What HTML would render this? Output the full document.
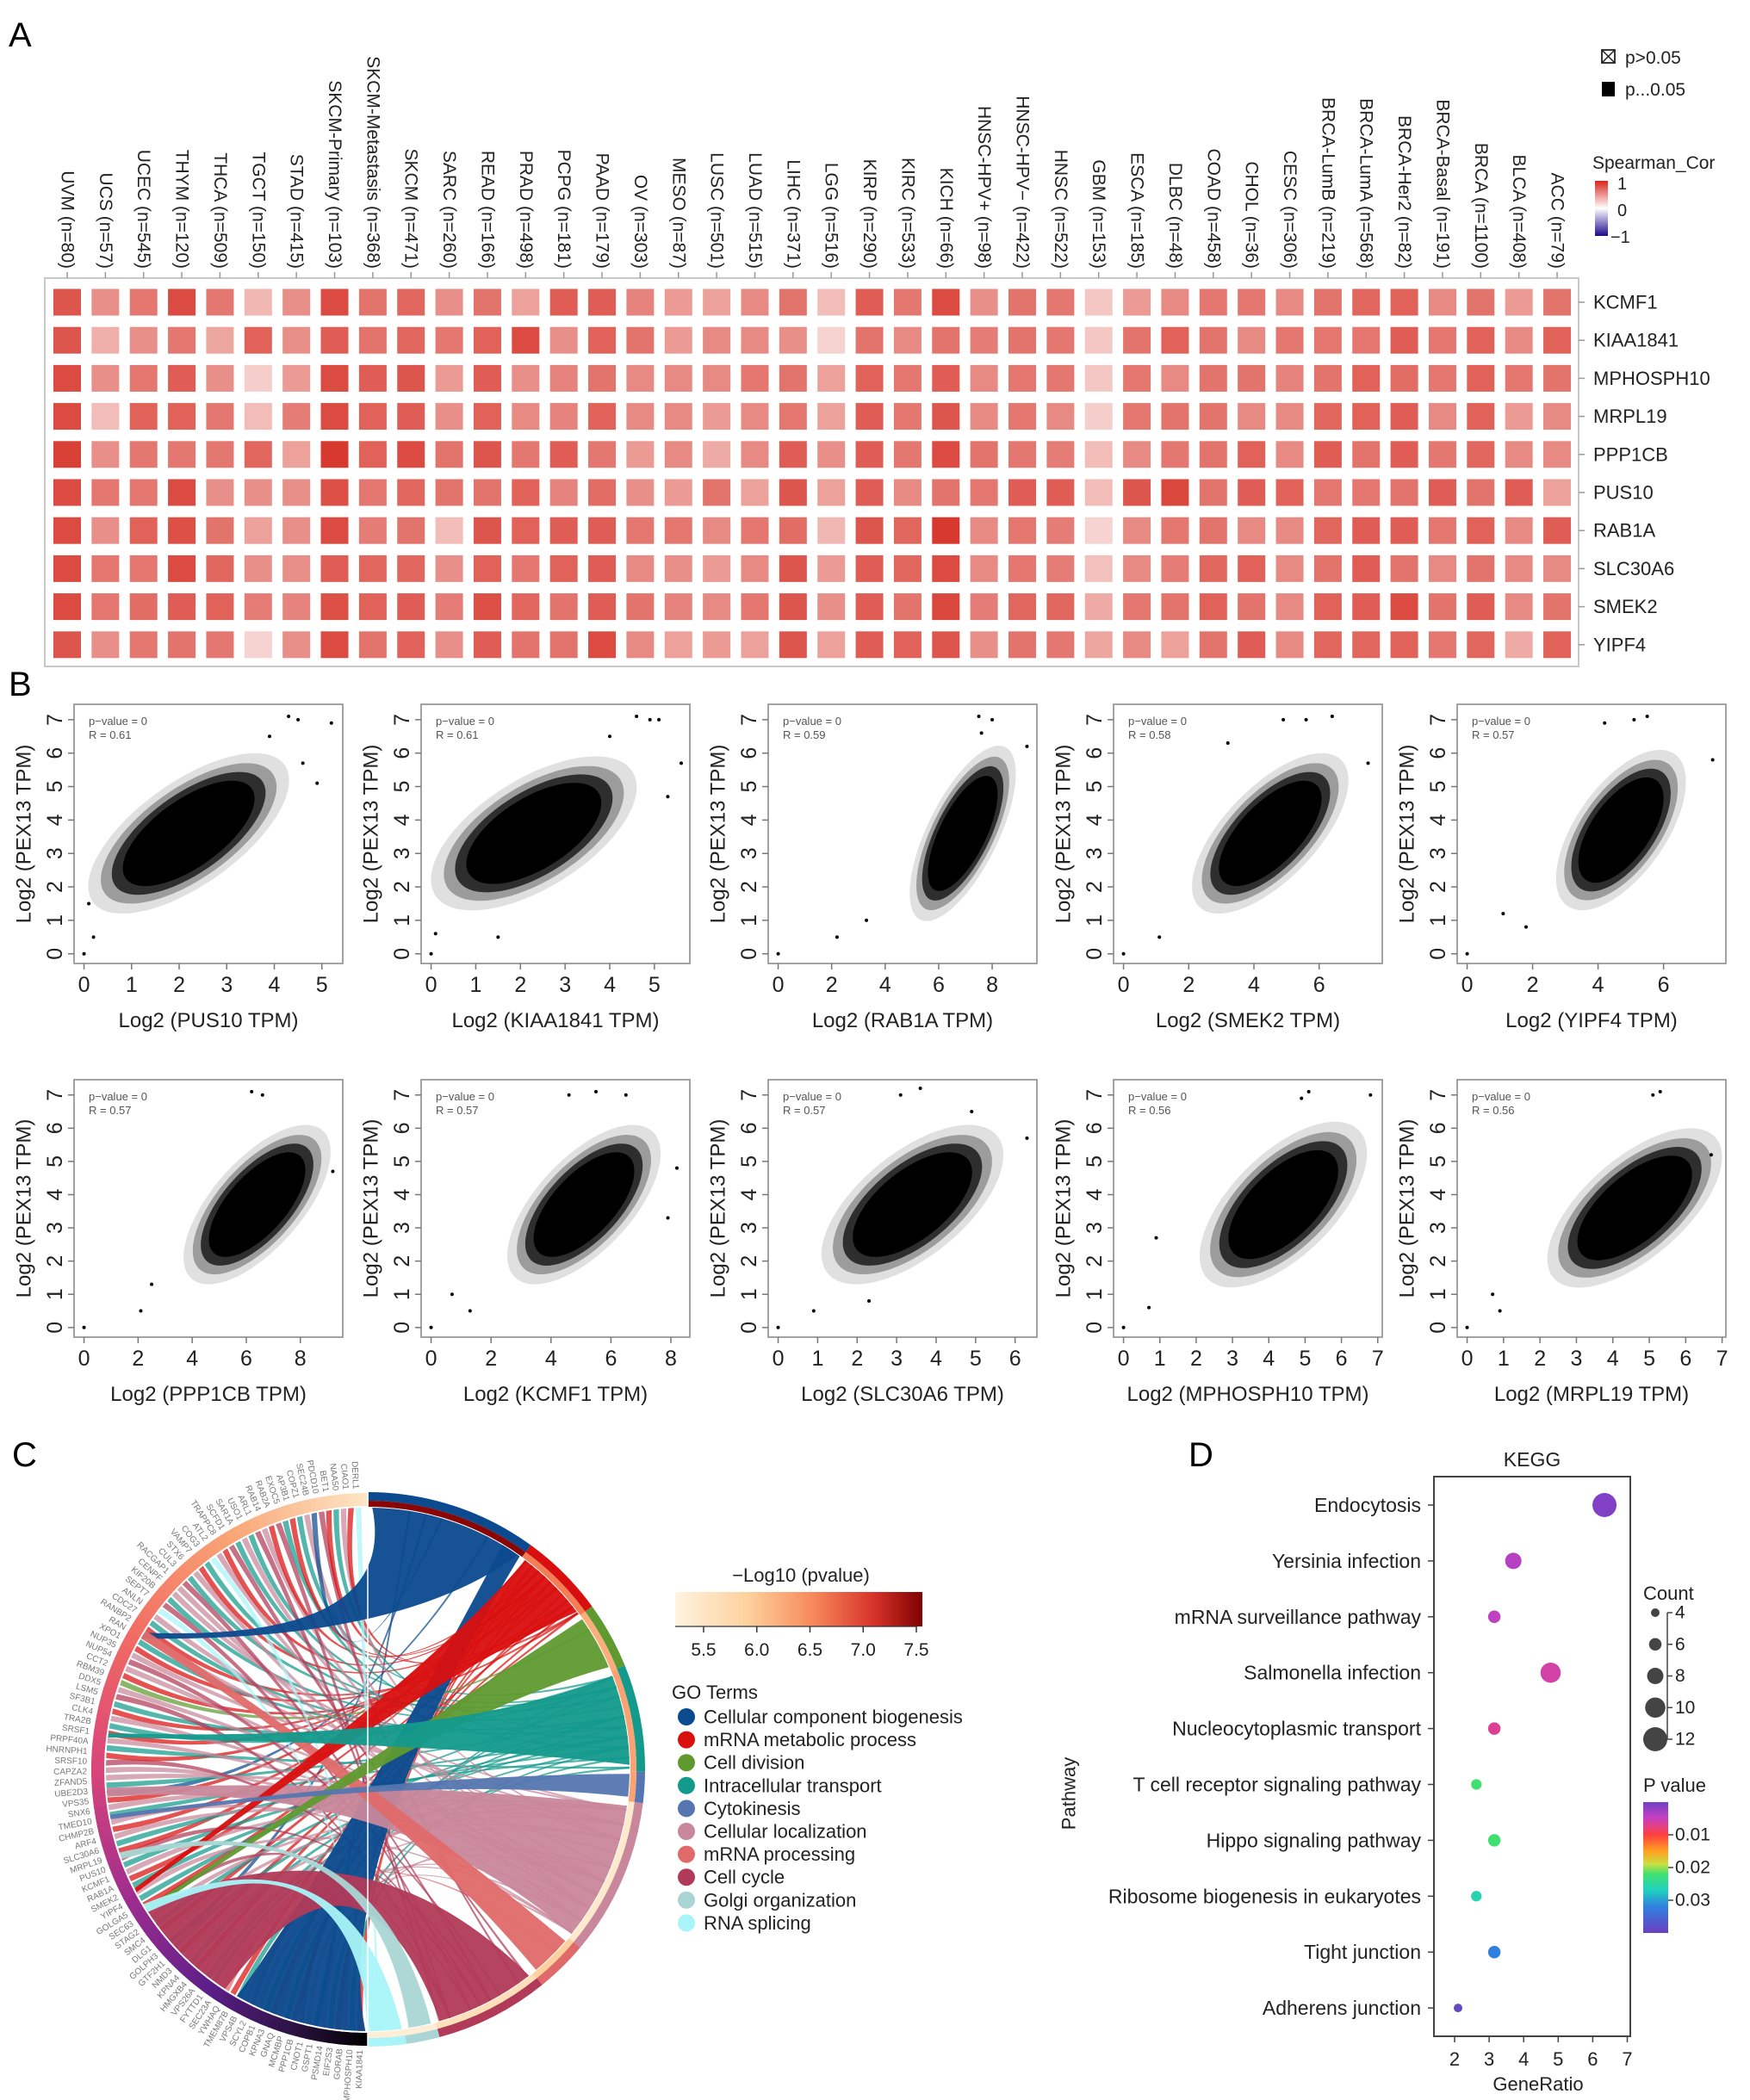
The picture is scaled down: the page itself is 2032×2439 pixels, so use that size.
<!DOCTYPE html>
<html><head><meta charset="utf-8"><style>
html,body{margin:0;padding:0;background:#fff}
svg{display:block}
text{font-family:"Liberation Sans",Arial,sans-serif}
</style></head><body>
<svg id="fig" xmlns="http://www.w3.org/2000/svg" width="2032" height="2439" viewBox="0 0 2032 2439">
<defs>
<linearGradient id="spearGrad" x1="0" y1="0" x2="0" y2="1">
<stop offset="0" stop-color="#d7261e"/><stop offset="0.5" stop-color="#ffffff"/><stop offset="1" stop-color="#1a0a8c"/></linearGradient>
<linearGradient id="logpGrad" x1="0" y1="0" x2="1" y2="0">
<stop offset="0" stop-color="#fff3e0"/><stop offset="0.3" stop-color="#fdd09c"/><stop offset="0.55" stop-color="#f88b5c"/><stop offset="0.8" stop-color="#d8342a"/><stop offset="1" stop-color="#7f0000"/></linearGradient>
<linearGradient id="pvalGrad" x1="0" y1="0" x2="0" y2="1">
<stop offset="0" stop-color="#7040c8"/><stop offset="0.125" stop-color="#c840c0"/><stop offset="0.25" stop-color="#ff4040"/><stop offset="0.375" stop-color="#ffa020"/><stop offset="0.475" stop-color="#c8e040"/><stop offset="0.55" stop-color="#40e070"/><stop offset="0.675" stop-color="#20d0c0"/><stop offset="0.8" stop-color="#3080e0"/><stop offset="1" stop-color="#6a40c0"/></linearGradient>
</defs>
<text x="10" y="54" font-size="40">A</text>
<text x="10" y="808" font-size="40">B</text>
<text x="14" y="1703" font-size="40">C</text>
<text x="1380" y="1703" font-size="40">D</text>
<g id="gA"></g>
<g id="gB"></g>
<g id="gC"></g>
<g id="gD"></g>
</svg>
<script>
// ---------- Panel A data ----------
const heatCols = ["UVM","UCS","UCEC","THYM","THCA","TGCT","STAD","SKCM-Primary","SKCM-Metastasis","SKCM","SARC","READ","PRAD","PCPG","PAAD","OV","MESO","LUSC","LUAD","LIHC","LGG","KIRP","KIRC","KICH","HNSC-HPV+","HNSC-HPV\u2212","HNSC","GBM","ESCA","DLBC","COAD","CHOL","CESC","BRCA-LumB","BRCA-LumA","BRCA-Her2","BRCA-Basal","BRCA","BLCA","ACC"];
const heatN = [80,57,545,120,509,150,415,103,368,471,260,166,498,181,179,303,87,501,515,371,516,290,533,66,98,422,522,153,185,48,458,36,306,219,568,82,191,1100,408,79];
const heatRows = ["KCMF1","KIAA1841","MPHOSPH10","MRPL19","PPP1CB","PUS10","RAB1A","SLC30A6","SMEK2","YIPF4"];
const heatVals = [
[.75,.75,.8,.8,.85,.8,.8,.8,.8,.75],[.5,.35,.5,.3,.5,.6,.5,.6,.6,.5],[.6,.5,.6,.7,.6,.6,.7,.6,.65,.6],[.8,.6,.72,.7,.6,.8,.78,.8,.72,.62],
[.6,.4,.5,.6,.6,.5,.62,.68,.7,.6],[.32,.7,.22,.3,.68,.5,.42,.5,.58,.2],[.5,.5,.45,.58,.42,.5,.5,.5,.55,.5],[.8,.72,.8,.8,.88,.78,.8,.72,.78,.8],
[.62,.62,.72,.7,.7,.6,.58,.68,.7,.62],[.68,.68,.75,.72,.8,.68,.62,.68,.72,.7],[.5,.6,.45,.5,.62,.62,.3,.5,.58,.5],[.62,.7,.72,.7,.75,.62,.75,.7,.78,.72],
[.42,.8,.5,.52,.6,.7,.7,.6,.68,.62],[.72,.5,.55,.55,.72,.55,.72,.7,.62,.62],[.72,.7,.62,.7,.6,.65,.72,.72,.72,.8],[.55,.62,.52,.52,.45,.5,.6,.52,.62,.52],
[.45,.45,.52,.52,.52,.45,.6,.5,.55,.42],[.42,.52,.52,.45,.38,.62,.52,.45,.52,.45],[.52,.52,.6,.52,.52,.42,.6,.52,.6,.42],[.62,.5,.62,.6,.72,.75,.65,.75,.75,.75],
[.3,.2,.42,.42,.5,.42,.32,.45,.5,.42],[.72,.62,.7,.72,.72,.72,.75,.72,.72,.72],[.6,.52,.6,.6,.6,.52,.68,.68,.62,.7],[.8,.62,.72,.75,.8,.62,.88,.8,.82,.75],
[.5,.58,.52,.52,.62,.6,.52,.52,.58,.5],[.62,.62,.6,.6,.6,.72,.6,.6,.68,.62],[.6,.6,.6,.52,.58,.72,.58,.58,.68,.6],[.25,.25,.25,.22,.3,.3,.2,.28,.38,.4],
[.45,.62,.6,.6,.52,.75,.52,.52,.6,.52],[.52,.7,.52,.62,.6,.82,.6,.58,.62,.42],[.6,.62,.62,.62,.62,.62,.62,.68,.7,.62],[.6,.52,.62,.52,.7,.72,.52,.7,.62,.72],
[.52,.6,.55,.52,.52,.7,.52,.52,.52,.52],[.62,.6,.62,.68,.72,.6,.68,.62,.7,.68],[.68,.6,.7,.7,.62,.6,.72,.72,.72,.68],[.7,.72,.65,.72,.72,.62,.72,.62,.8,.7],
[.52,.6,.6,.52,.6,.72,.6,.52,.62,.6],[.62,.7,.7,.7,.68,.62,.7,.62,.72,.68],[.45,.52,.6,.45,.52,.72,.52,.52,.52,.38],[.62,.7,.62,.52,.52,.42,.72,.52,.62,.7]
];
// ---------- Panel B data ----------
const bGenes = ["PUS10","KIAA1841","RAB1A","SMEK2","YIPF4","PPP1CB","KCMF1","SLC30A6","MPHOSPH10","MRPL19"];
const bR = ["0.61","0.61","0.59","0.58","0.57","0.57","0.57","0.57","0.56","0.56"];
const bXmax = [5.23,5.57,9.3,7.63,7.6,9.2,8.3,6.3,6.85,6.83];
const bTickStep = [1,1,2,2,2,2,2,1,1,1];
const bTickMax = [5,5,8,6,6,8,8,6,7,7];
const bCx = [2.2,2.3,6.9,4.5,4.7,6.4,5.1,3.4,4.4,4.6];
const bCy = [3.6,3.6,3.6,3.6,3.7,3.7,3.7,3.7,3.7,3.6];
const bSx = [0.66,0.72,0.62,0.75,0.62,0.85,0.8,0.72,0.72,0.75];
const bSy = [0.75,0.72,0.82,0.75,0.75,0.75,0.75,0.75,0.78,0.75];
const bCorr = [0.66,0.6,0.68,0.66,0.6,0.66,0.64,0.62,0.62,0.64];
const bOutliers = [
[[0,0],[4.3,7.1],[4.5,7.0],[5.2,6.9],[4.9,5.1],[4.6,5.7],[0.2,0.5],[3.9,6.5],[0.1,1.5]],
[[0,0],[4.6,7.1],[4.9,7.0],[5.1,7.0],[5.6,5.7],[5.3,4.7],[0.1,0.6],[1.5,0.5],[4.0,6.5]],
[[0,0],[2.2,0.5],[7.5,7.1],[8.0,7.0],[9.3,6.2],[3.3,1.0],[7.6,6.6]],
[[0,0],[1.1,0.5],[4.9,7.0],[5.6,7.0],[6.4,7.1],[7.5,5.7],[3.2,6.3]],
[[0,0],[1.1,1.2],[5.1,7.0],[5.5,7.1],[7.5,5.8],[1.8,0.8],[4.2,6.9]],
[[0,0],[2.1,0.5],[6.2,7.1],[6.6,7.0],[9.2,4.7],[2.5,1.3]],
[[0,0],[0.7,1.0],[1.3,0.5],[5.5,7.1],[6.5,7.0],[8.2,4.8],[7.9,3.3],[4.6,7.0]],
[[0,0],[0.9,0.5],[3.6,7.2],[3.1,7.0],[6.3,5.7],[2.3,0.8],[4.9,6.5]],
[[0,0],[0.7,0.6],[5.1,7.1],[6.8,7.0],[4.9,6.9],[0.9,2.7]],
[[0,0],[0.9,0.5],[5.3,7.1],[5.1,7.0],[6.7,5.2],[0.7,1.0]]
];
// ---------- Panel C data ----------
const goTerms = ["Cellular component biogenesis","mRNA metabolic process","Cell division","Intracellular transport","Cytokinesis","Cellular localization","mRNA processing","Cell cycle","Golgi organization","RNA splicing"];
const goColors = ["#0b4a8e","#d90f0f","#5f9a30","#139a8c","#5576b0","#c8879a","#e06a6a","#b13a58","#a9d6d4","#a8f4f8"];
const goStart = [0,36,54,68,90.5,97,130,141,165,172];
const goEnd = [36,54,68,90.5,97,130,141,165,172,180];
const goLogP = [7.5,6.6,6.2,6.3,6.3,5.4,5.9,5.6,5.3,5.3];
const logpTicks = [5.5,6.0,6.5,7.0,7.5];
const bigRibbons = [ // term, termA, termB, geneA, geneB, ctrlRadiusFrac, ctrlAngle
[0,1,35,300,301.5,0.5,14],[0,31,35.5,180.5,210,0.4,200],[7,142,164,213,238,0.15,190],[5,98,129,264,266,0.1,110],[6,131,140,300,302,0.1,140],
[1,37,53,242,243,0.4,32],[2,55,67,237,238,0.35,52],[3,69,89,277,278,0.32,72],[4,91,96,259,260,0.2,95],[8,166,171,250,251.5,0.1,170],[9,172.5,179.5,237,239,0.2,200]
];
const geneLinks = "1351350571351357531653351351305135713531537135153510355713513513752157513513597355735139517353751731350713519";
const geneNames = ["KIAA1841","MPHOSPH10","GORAB","EIF2S3","PSMD14","GSPT1","CNOT1","PPP1CB","MCMBP","GNAQ","KPNA3","COPB1","SCYL2","VPS4B","TMEM87B","YWHAQ","SEC23A","FYTTD1","VPS26A","HMGXB4","KPNA4","NMD3","GTF2H1","GOLPH3","DLG1","SMC4","STAG2","SEC63","GOLGA5","YIPF4","SMEK2","RAB1A","KCMF1","PUS10","MRPL19","SLC30A6","ARF4","CHMP2B","TMED10","SNX6","VPS35","UBE2D3","ZFAND5","CAPZA2","SRSF10","HNRNPH1","PRPF40A","SRSF1","TRA2B","CLK4","SF3B1","LSM5","DDX5","RBM39","CCT2","NUP54","NUP35","XPO1","RAN","RANBP2","CDC27","ANLN","SEPT7","KIF20B","CENPF","RACGAP1","CUL3","STX6","VAMP7","COG3","ATL2","TRAPPC8","SCFD1","SAR1A","USO1","ARL1","RAB14","RAB2A","EXOC5","AP3B1","COPZ1","SEC24B","PDCD10","BET1","NAA50","CIAO1","DERL1"];
// ---------- Panel D data ----------
const keggPaths = ["Endocytosis","Yersinia infection","mRNA surveillance pathway","Salmonella infection","Nucleocytoplasmic transport","T cell receptor signaling pathway","Hippo signaling pathway","Ribosome biogenesis in eukaryotes","Tight junction","Adherens junction"];
const keggRatio = [6.34,3.7,3.15,4.78,3.15,2.63,3.15,2.63,3.15,2.1];
const keggCount = [12,8,6,10,6,5,6,5,6,4];
const keggP = [0.001,0.004,0.0045,0.006,0.0068,0.022,0.022,0.026,0.032,0.039];
const countTicks = [4,6,8,10,12];
const pTicks = [0.01,0.02,0.03];
const xTicksD = [2,3,4,5,6,7];

const NS = "http://www.w3.org/2000/svg";
function E(tag, parent, attrs){const e=document.createElementNS(NS,tag);for(const k in attrs)e.setAttribute(k,attrs[k]);parent.appendChild(e);return e;}
function T(parent, x, y, str, attrs){const e=E("text",parent,Object.assign({x:x,y:y},attrs||{}));e.textContent=str;return e;}

// ================= Panel A =================
(function(){
const g=document.getElementById("gA");
const x0=78, dx=44.36, y0=351, dy=44.2;
const hx=i=>x0+i*dx, hy=j=>y0+j*dy;
const box=E("rect",g,{x:52,y:323,width:1781,height:451,fill:"none",stroke:"#c8c8c8","stroke-width":2});


function col(v){const c=[210,30,18];return "rgb("+c.map(ch=>Math.round(255+(ch-255)*v)).join(",")+")";}
heatCols.forEach((c,i)=>{
  const tk=E("line",g,{x1:hx(i),x2:hx(i),y1:316,y2:323,stroke:"#999","stroke-width":1.5});
  
  
  const t=T(g,0,0,c+" (n="+heatN[i]+")",{"font-size":21,"text-anchor":"end","dominant-baseline":"central",transform:"translate("+hx(i)+",312) rotate(90)",fill:"#222"});
  
  
  heatRows.forEach((r,j)=>{
    const cell=E("rect",g,{x:hx(i)-16,y:hy(j)-15.5,width:32,height:31,fill:col(heatVals[i][j])});
    
    
  });
});
heatRows.forEach((r,j)=>{
  const tk=E("line",g,{x1:1833,x2:1840,y1:hy(j),y2:hy(j),stroke:"#999","stroke-width":1.5});
  
  
  const t=T(g,1850,hy(j),r,{"font-size":22,"dominant-baseline":"central",fill:"#222"});
  
  
});
const lg=E("g",g,{});


E("rect",lg,{x:1860,y:58,width:15,height:15,fill:"none",stroke:"#222","stroke-width":1.8});
E("path",lg,{d:"M1860 58L1875 73M1875 58L1860 73",stroke:"#222","stroke-width":1.5});
T(lg,1887,74,"p>0.05",{"font-size":21,fill:"#222"});
E("rect",lg,{x:1860,y:95,width:15,height:17,fill:"#000"});
T(lg,1887,111,"p...0.05",{"font-size":21,fill:"#222"});
T(lg,1849,196,"Spearman_Cor",{"font-size":21,fill:"#222"});
E("rect",lg,{x:1852,y:210,width:15,height:64,fill:"url(#spearGrad)"});
T(lg,1878,220,"1",{"font-size":20,fill:"#222"});
T(lg,1878,251,"0",{"font-size":20,fill:"#222"});
T(lg,1870,282,"\u22121",{"font-size":20,fill:"#222"});
})();

// ================= Panel B =================
(function(){
const g=document.getElementById("gB");
const bx=[86,489,892,1293,1692], rowsY=[[818,1119],[1254,1553]], W=312;
bGenes.forEach((gene,k)=>{
  const px=bx[k%5], py0=rowsY[Math.floor(k/5)][0], py1=rowsY[Math.floor(k/5)][1], H=py1-py0;
  const xmin=-0.04*bXmax[k], xmax=1.04*bXmax[k];
  const X=v=>px+(v-xmin)/(xmax-xmin)*W;
  const Y=v=>py0+(7.46-v)/7.75*H;
  const pg=E("g",g,{});
  
  
  [[3.2,0.12],[2.8,0.3],[2.45,0.7],[2.1,1]].forEach(([kk,op])=>{
    let d="";
    for(let s=0;s<=72;s++){const t=s/72*2*Math.PI;
      const vx=bCx[k]+kk*bSx[k]*Math.cos(t);
      const vy=bCy[k]+kk*bSy[k]*(bCorr[k]*Math.cos(t)+Math.sqrt(1-bCorr[k]*bCorr[k])*Math.sin(t));
      d+=(s?"L":"M")+X(vx).toFixed(1)+" "+Y(vy).toFixed(1);}
    const c=E("path",pg,{d:d+"Z",fill:"#000","fill-opacity":op});
    
    
  });
  bOutliers[k].forEach(p=>{
    const c=E("circle",pg,{cx:X(p[0]),cy:Y(p[1]),r:2,fill:"#000"});
    
    
  });
  const fr=E("rect",pg,{x:px,y:py0,width:W,height:H,fill:"none",stroke:"#999","stroke-width":1.8});
  
  
  for(let v=0;v<=bTickMax[k];v+=bTickStep[k]){
    const tl=E("line",pg,{x1:X(v),x2:X(v),y1:py1,y2:py1+7,stroke:"#777","stroke-width":1.5});
    
    
    const t=T(pg,X(v),py1+33,String(v),{"font-size":25,"text-anchor":"middle",fill:"#222"});
    
    
  }
  for(let v=0;v<=7;v++){
    const tl=E("line",pg,{x1:px-7,x2:px,y1:Y(v),y2:Y(v),stroke:"#777","stroke-width":1.5});
    
    
    const t=T(pg,0,0,String(v),{"font-size":25,"text-anchor":"middle","dominant-baseline":"central",fill:"#222",transform:"translate("+(px-22)+","+Y(v)+") rotate(-90)"});
    
    
  }
  const xt=T(pg,px+W/2,py1+74,"Log2 ("+gene+" TPM)",{"font-size":24,"text-anchor":"middle",fill:"#222"});
  
  
  const yt=T(pg,0,0,"Log2 (PEX13 TPM)",{"font-size":24,"text-anchor":"middle","dominant-baseline":"central",fill:"#222",transform:"translate("+(px-58)+","+((py0+py1)/2)+") rotate(-90)"});
  
  
  const a1=T(pg,px+17,py0+24,"p\u2212value = 0",{"font-size":13,fill:"#555"});
  
  
  const a2=T(pg,px+17,py0+40,"R = "+bR[k],{"font-size":13,fill:"#555"});
  
  
});
})();

// ================= Panel C =================
(function(){
const g=document.getElementById("gC");
const CX=427, CY=2055, R0=304;
const P=(r,a)=>{const t=a*Math.PI/180;return [CX+r*Math.sin(t),CY-r*Math.cos(t)];};
const f=p=>p[0].toFixed(1)+" "+p[1].toFixed(1);
function seg(r1,r2,a1,a2){const la=(a2-a1)>180?1:0;
  return "M"+f(P(r2,a1))+"A"+r2+" "+r2+" 0 "+la+" 1 "+f(P(r2,a2))+"L"+f(P(r1,a2))+"A"+r1+" "+r1+" 0 "+la+" 0 "+f(P(r1,a1))+"Z";}
function ribbon(a1,a2,b1,b2,cf,ca){const r=R0; const c=f(P((cf||0)*R0,ca||0));
  return "M"+f(P(r,a1))+"A"+r+" "+r+" 0 0 1 "+f(P(r,a2))+"Q"+c+" "+f(P(r,b1))+"A"+r+" "+r+" 0 0 1 "+f(P(r,b2))+"Q"+c+" "+f(P(r,a1))+"Z";}
function lerpHex(a,b,t){const pa=[1,3,5].map(i=>parseInt(a.substr(i,2),16)),pb=[1,3,5].map(i=>parseInt(b.substr(i,2),16));return "rgb("+pa.map((v,i)=>Math.round(v+(pb[i]-v)*t)).join(",")+")";}
const lpStops=[[5.2,"#fff3e0"],[5.9,"#fdd09c"],[6.5,"#f88b5c"],[7.1,"#d8342a"],[7.55,"#7f0000"]];
function lpCol(v){for(let i=0;i<lpStops.length-1;i++){if(v<=lpStops[i+1][0]){return lerpHex(lpStops[i][1],lpStops[i+1][1],(v-lpStops[i][0])/(lpStops[i+1][0]-lpStops[i][0]));}}return lpStops[4][1];}
const N=geneLinks.length, gA0=181, gA1=359, step=(gA1-gA0)/N;
for(let i=0;i<N;i++){
  const t=+geneLinks[i]; const ga=gA0+i*step;
  const span=goEnd[t]-goStart[t]; const ta=goStart[t]+span*(((i*7)%10)+0.5)/10;
  const l=E("path",g,{d:ribbon(ta,ta+0.5,ga,ga+step*0.75,0.15,(ta+ga)/2+90),fill:goColors[t],"fill-opacity":0.72});
  
  
}
bigRibbons.forEach(rb=>{
  const l=E("path",g,{d:ribbon(rb[1],rb[2],rb[3],rb[4],rb[5],rb[6]),fill:goColors[rb[0]],"fill-opacity":0.95});
  
  
});
goTerms.forEach((tm,i)=>{
  const s=E("path",g,{d:seg(312,322,goStart[i],goEnd[i]),fill:goColors[i]});
  
  
  const s2=E("path",g,{d:seg(305,312,goStart[i],goEnd[i]),fill:lpCol(goLogP[i])});
  
  
});
const ringStops=[[180,"#000000"],[195,"#2a1240"],[215,"#5a1e88"],[240,"#9c2c90"],[270,"#d8457a"],[300,"#f26c62"],[330,"#f9a676"],[360,"#fde6c6"]];
function ringCol(a){for(let i=0;i<ringStops.length-1;i++){if(a<=ringStops[i+1][0])return lerpHex(ringStops[i][1],ringStops[i+1][1],(a-ringStops[i][0])/(ringStops[i+1][0]-ringStops[i][0]));}return ringStops[7][1];}
for(let a=180;a<360;a+=1){
  const s=E("path",g,{d:seg(306,321,a,a+1.15),fill:ringCol(a+0.5)});
  
  
}
const lines=E("path",g,{d:"M"+CX+" "+(CY-322)+"L"+CX+" "+(CY+322),stroke:"#fff","stroke-width":1.5});


const gstep=(359-181)/geneNames.length;
geneNames.forEach((nm,i)=>{
  const a=181.5+i*gstep; const p=P(326,a); const t=a*Math.PI/180;
  const rot=Math.atan2(Math.cos(t),-Math.sin(t))*180/Math.PI;
  const tx=T(g,0,0,nm,{"font-size":10,"font-family":"Liberation Serif, serif","text-anchor":"end","dominant-baseline":"central",fill:"#777",transform:"translate("+p[0].toFixed(1)+","+p[1].toFixed(1)+") rotate("+rot.toFixed(1)+")"});
  
  
});
const lg=E("g",g,{});


T(lg,930,1837,"\u2212Log10 (pvalue)",{"font-size":22,"text-anchor":"middle",fill:"#222"});
const gb=E("rect",lg,{x:784,y:1849,width:287,height:40,fill:"url(#logpGrad)"});


const LX=v=>817+(v-5.5)*123.5;
logpTicks.forEach(v=>{
  E("line",lg,{x1:LX(v),x2:LX(v),y1:1889,y2:1896,stroke:"#333","stroke-width":1.5});
  const t=T(lg,LX(v),1923,v.toFixed(1),{"font-size":21,"text-anchor":"middle",fill:"#222"});
  
  
});
E("line",lg,{x1:784,x2:LX(7.5),y1:1889,y2:1889,stroke:"#333","stroke-width":1.2});
T(lg,780,1973,"GO Terms",{"font-size":22,fill:"#222"});
goTerms.forEach((tm,i)=>{
  const y=1994+i*26.6;
  const c=E("circle",lg,{cx:797,cy:y,r:10,fill:goColors[i]});
  
  
  const t=T(lg,817,y,tm,{"font-size":22,"dominant-baseline":"central",fill:"#222"});
  
  
});
})();

// ================= Panel D =================
(function(){
const g=document.getElementById("gD");
const X=v=>1689+(v-2)*40.1, Y=i=>1748+i*64.9;
const pStops=[[0,"#7040c8"],[0.005,"#c840c0"],[0.01,"#ff4040"],[0.015,"#ffa020"],[0.019,"#c8e040"],[0.022,"#40e070"],[0.027,"#20d0c0"],[0.032,"#3080e0"],[0.04,"#6a40c0"]];
function hx(h){return [1,3,5].map(i=>parseInt(h.substr(i,2),16));}
function pCol(p){for(let i=0;i<pStops.length-1;i++){if(p<=pStops[i+1][0]){const a=hx(pStops[i][1]),b=hx(pStops[i+1][1]),t=(p-pStops[i][0])/(pStops[i+1][0]-pStops[i][0]);return "rgb("+a.map((v,j)=>Math.round(v+(b[j]-v)*t)).join(",")+")";}}return pStops[8][1];}
const rad=c=>5+(c-4)*1.125;
const fr=E("rect",g,{x:1665,y:1715,width:228,height:650,fill:"none",stroke:"#444","stroke-width":2});


T(g,1779,1703,"KEGG",{"font-size":23,"text-anchor":"middle",fill:"#222"});
keggPaths.forEach((p,i)=>{
  E("line",g,{x1:1658,x2:1665,y1:Y(i),y2:Y(i),stroke:"#444","stroke-width":1.5});
  const t=T(g,1650,Y(i),p,{"font-size":23,"text-anchor":"end","dominant-baseline":"central",fill:"#222"});
  
  
  const c=E("circle",g,{cx:X(keggRatio[i]),cy:Y(i),r:rad(keggCount[i]),fill:pCol(keggP[i])});
  
  
});
xTicksD.forEach(v=>{
  E("line",g,{x1:X(v),x2:X(v),y1:2365,y2:2372,stroke:"#444","stroke-width":1.5});
  const t=T(g,X(v),2399,String(v),{"font-size":22,"text-anchor":"middle",fill:"#222"});
  
  
});
const xt=T(g,1786,2428,"GeneRatio",{"font-size":22,"text-anchor":"middle",fill:"#222"});


const yt=T(g,0,0,"Pathway",{"font-size":22,"text-anchor":"middle","dominant-baseline":"central",fill:"#222",transform:"translate(1241,2083) rotate(-90)"});


const lg=E("g",g,{});


T(lg,1908,1858,"Count",{"font-size":22,fill:"#222"});
const CYc=c=>1873+(c-4)/8*147;
countTicks.forEach(c=>{
  const ci=E("circle",lg,{cx:1922,cy:CYc(c),r:rad(c),fill:"#444"});
  
  
  E("line",lg,{x1:1936,x2:1942,y1:CYc(c),y2:CYc(c),stroke:"#444","stroke-width":1.5});
  T(lg,1945,CYc(c),String(c),{"font-size":21,"dominant-baseline":"central",fill:"#222"});
});
E("line",lg,{x1:1936,x2:1936,y1:1873,y2:2020,stroke:"#444","stroke-width":1.5});
const pl=E("g",g,{});


T(pl,1908,2081,"P value",{"font-size":22,fill:"#222"});
const cb=E("rect",pl,{x:1908,y:2093,width:29,height:152,fill:"url(#pvalGrad)"});


const PY=p=>2093+p/0.04*152;
pTicks.forEach(p=>{
  E("line",pl,{x1:1937,x2:1943,y1:PY(p),y2:PY(p),stroke:"#444","stroke-width":1.5});
  T(pl,1945,PY(p),p.toFixed(2),{"font-size":21,"dominant-baseline":"central",fill:"#222"});
});
})();
</script>
</body></html>
